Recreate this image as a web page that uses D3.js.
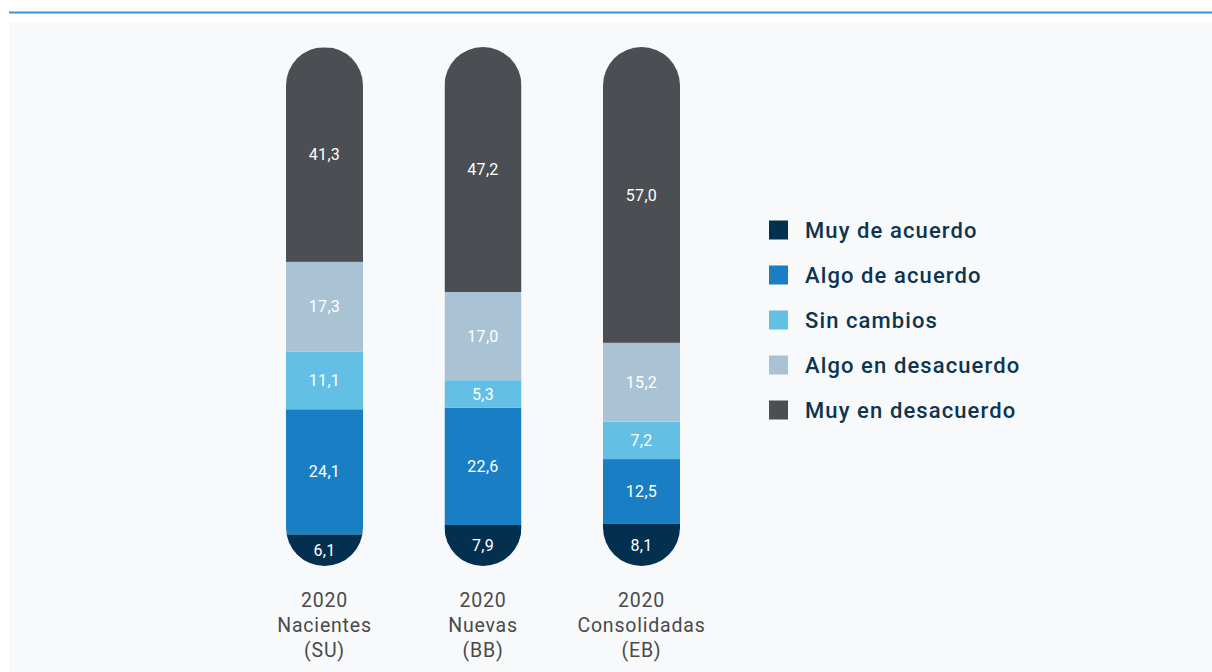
<!DOCTYPE html>
<html>
<head>
<meta charset="utf-8">
<script src="https://cdn.jsdelivr.net/npm/d3@7"></script>
<style>
  html, body { margin: 0; padding: 0; background: #ffffff; }
  svg { display: block; }
</style>
</head>
<body>
<svg id="chart" width="1212" height="672"></svg>
<script>
// Grupos (columnas) y series apiladas, de abajo hacia arriba
const groups = ["2020 Nacientes (SU)", "2020 Nuevas (BB)", "2020 Consolidadas (EB)"];
const groupLines = [["2020", "Nacientes", "(SU)"], ["2020", "Nuevas", "(BB)"], ["2020", "Consolidadas", "(EB)"]];
const series = ["Muy de acuerdo", "Algo de acuerdo", "Sin cambios", "Algo en desacuerdo", "Muy en desacuerdo"];
const muyDeAcuerdo     = [6.1, 7.9, 8.1];
const algoDeAcuerdo    = [24.1, 22.6, 12.5];
const sinCambios       = [11.1, 5.3, 7.2];
const algoEnDesacuerdo = [17.3, 17.0, 15.2];
const muyEnDesacuerdo  = [41.3, 47.2, 57.0];
const colors = ["#04304f", "#1a7ec4", "#63bfe4", "#a9c2d4", "#4b4f53"];

const seriesValues = [muyDeAcuerdo, algoDeAcuerdo, sinCambios, algoEnDesacuerdo, muyEnDesacuerdo];
const rows = groups.map((g, i) => {
  const r = { group: g };
  series.forEach((s, k) => { r[s] = seriesValues[k][i]; });
  return r;
});
const stacked = d3.stack().keys(series)(rows);

const svg = d3.select("#chart");
const fmt = v => d3.format(".1f")(v).replace(".", ",");

// Línea superior y fondo del panel
svg.append("rect").attr("x", 9).attr("y", 22).attr("width", 1203).attr("height", 650).attr("fill", "#f8f9fb");
svg.append("line").attr("x1", 9).attr("x2", 1212).attr("y1", 12.5).attr("y2", 12.5)
  .attr("stroke", "#3a93cf").attr("stroke-width", 2);

const barW = 77;
const x = d3.scalePoint().domain(groups).range([324.5, 641.5]);
const y = d3.scaleLinear().domain([0, 100]).range([566, 47]);

// Recorte en forma de píldora para cada columna
const defs = svg.append("defs");
groups.forEach((g, i) => {
  defs.append("clipPath").attr("id", "pill" + i)
    .append("rect")
    .attr("x", x(g) - barW / 2).attr("y", y(100))
    .attr("width", barW).attr("height", y(0) - y(100))
    .attr("rx", barW / 2).attr("ry", barW / 2);
});

groups.forEach((g, i) => {
  const col = svg.append("g").attr("clip-path", `url(#pill${i})`);
  stacked.forEach((layer, k) => {
    const d = layer[i];
    col.append("rect")
      .attr("x", x(g) - barW / 2)
      .attr("y", y(d[1]))
      .attr("width", barW)
      .attr("height", y(d[0]) - y(d[1]))
      .attr("fill", colors[k]);
  });
  stacked.forEach((layer, k) => {
    const d = layer[i];
    svg.append("text")
      .attr("x", x(g))
      .attr("y", (y(d[0]) + y(d[1])) / 2)
      .attr("dy", "0.35em")
      .attr("text-anchor", "middle")
      .attr("fill", "#ffffff")
      .attr("font-family", "Roboto, sans-serif")
      .attr("font-size", 16)
      .attr("letter-spacing", 0.3)
      .text(fmt(d[1] - d[0]));
  });
  const lbl = svg.append("text")
    .attr("text-anchor", "middle")
    .attr("fill", "#4a4a4a")
    .attr("font-family", "Roboto, sans-serif")
    .attr("font-size", 19.5)
    .attr("letter-spacing", 0.8);
  groupLines[i].forEach((t, j) => {
    lbl.append("tspan").attr("x", x(g)).attr("y", 607 + j * 25).text(t);
  });
});

// Leyenda
const legend = svg.append("g");
series.forEach((s, k) => {
  const cy = 230 + k * 45;
  legend.append("rect").attr("x", 769).attr("y", cy - 9.5).attr("width", 19).attr("height", 19).attr("fill", colors[k]);
  legend.append("text").attr("x", 805).attr("y", cy).attr("dy", "0.36em")
    .attr("fill", "#0d3550")
    .attr("font-family", "Roboto, sans-serif")
    .attr("font-size", 22)
    .attr("font-weight", 500)
    .attr("letter-spacing", 1.1)
    .text(s);
});
</script>
</body>
</html>
